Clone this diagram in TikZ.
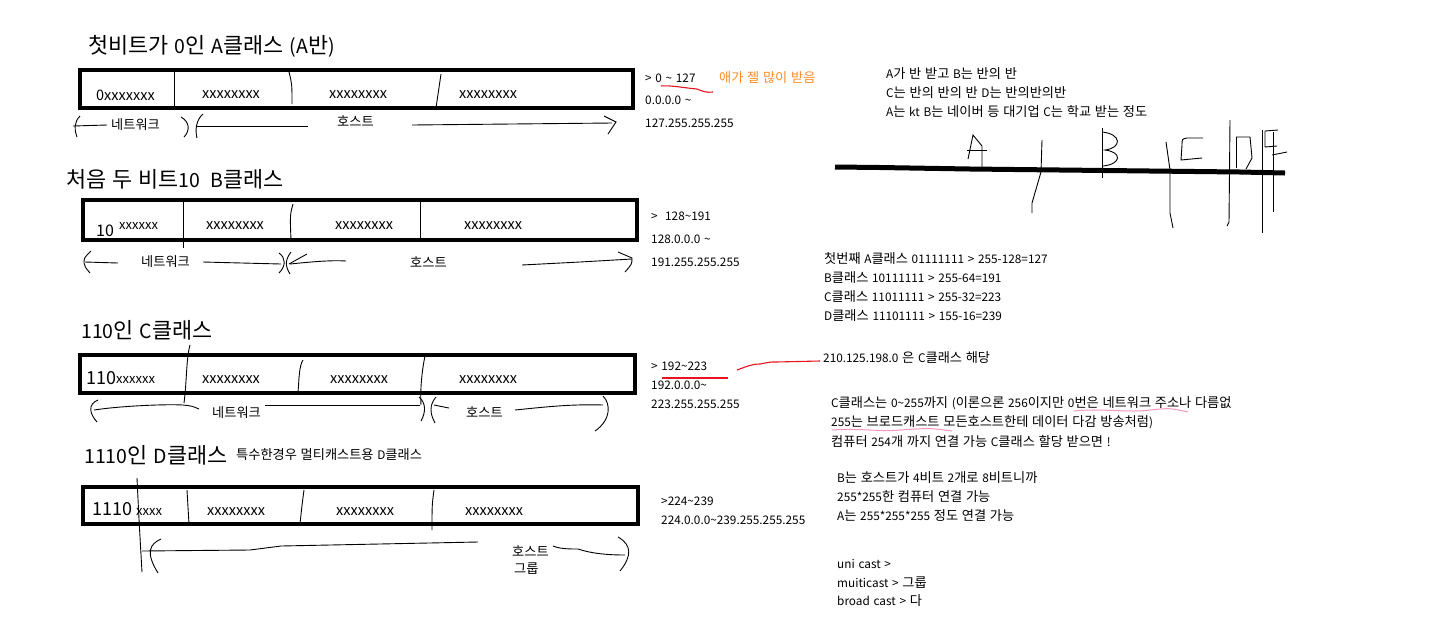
\documentclass[tikz,border=0pt]{standalone}
\usepackage{fontspec}
\setmainfont{Noto Sans CJK KR}[WordSpace=1.4]
\newfontfamily\latinfnt{Noto Sans CJK KR}[WordSpace=1.4]
\newfontfamily\hangulfnt{Noto Sans CJK KR}[Scale=1.12,WordSpace=1.2]
\XeTeXinterchartokenstate=1
\newXeTeXintercharclass\HangulClass
\count255="AC00
\loop\ifnum\count255<"D7A4
  \XeTeXcharclass\count255=\HangulClass
  \advance\count255 by 1
\repeat
\XeTeXinterchartoks 0 \HangulClass = {\hangulfnt}
\XeTeXinterchartoks 4095 \HangulClass = {\hangulfnt}
\XeTeXinterchartoks \HangulClass 0 = {\latinfnt}
\XeTeXinterchartoks \HangulClass 4095 = {\latinfnt}
\newcommand\tld{\textasciitilde}
\tikzset{
  t/.style={anchor=west, inner sep=0pt, font=\fontsize{11.8}{13}\selectfont},
  ttl/.style={anchor=west, inner sep=0pt, font=\fontsize{19.5}{22}\selectfont},
  bits/.style={anchor=west, inner sep=0pt, font=\fontsize{14.5}{16}\selectfont},
  bigd/.style={anchor=west, inner sep=0pt, font=\fontsize{18}{20}\selectfont},
  frame/.style={line width=4pt},
  pen/.style={line width=0.9pt},
  redpen/.style={line width=1.1pt, draw=penred},
  pinkpen/.style={line width=1pt, draw=penpink},
  thick line/.style={line width=5pt},
}
\definecolor{penred}{RGB}{230,20,30}
\definecolor{penpink}{RGB}{245,150,190}
\definecolor{orangetxt}{RGB}{255,140,40}
\begin{document}
\begin{tikzpicture}[x=1pt,y=-1pt]
\fill[white] (0,0) rectangle (1432,641);
\useasboundingbox (0,0) rectangle (1432,641);

% ---------------- A class ----------------
\node[ttl] (tA) at (88,46) {첫비트가 0인 A클래스 (A반)};
\draw[frame] (80,70) rectangle (633,108);
\draw[pen] (174,70) -- (174,108);
\draw[pen] (289,72) .. controls (292,84) .. (292,104);
\draw[pen] (441,74) -- (436,108);
\node[bits] (a1) at (96,95) {0xxxxxxx};
\node[bits] (a2) at (202,95) {xxxxxxxx};
\node[bits] (a3) at (329,95) {xxxxxxxx};
\node[bits] (a4) at (459,95) {xxxxxxxx};
% brackets
\draw[pen] (80,116) .. controls (74,122) and (74,130) .. (77,137);
\draw[pen] (73,126) -- (107,125);
\node[t] (aNet) at (111,125) {네트워크};
\draw[pen] (181,117) .. controls (190,122) and (190,131) .. (184,137);
\draw[pen] (203,114) .. controls (196,120) and (195,130) .. (197,138);
\draw[pen] (197,126) -- (308,126);
\node[t] (aHost) at (337,121) {호스트};
\draw[pen] (412,125) -- (612,123);
\draw[pen] (604,116) -- (616,122) -- (608,134);
% right notes
\node[t] (aR1) at (645,78) {> 0 \tld{} 127};
\node[t, text=orangetxt] (aR1b) at (719,78) {애가 젤 많이 받음};
\draw[redpen] (661,86) .. controls (670,85) and (685,88) .. (697,89) .. controls (702,91) and (706,93) .. (713,92);
\node[t] (aR2) at (645,100) {0.0.0.0 \tld};
\node[t] (aR3) at (645,123) {127.255.255.255};

% ---------------- B class ----------------
\node[ttl] (tB) at (66,179) {처음 두 비트10\hspace{4pt} B클래스};
\draw[frame] (83,200) rectangle (637,240);
\draw[pen] (183,202) -- (183,248);
\draw[pen] (293,204) .. controls (290,215) .. (291,240);
\draw[pen] (420,202) -- (420,240);
\node[bigd, font=\fontsize{16}{18}\selectfont] (b0) at (96,231) {10};
\node[bits, font=\fontsize{13}{14}\selectfont] (b1) at (119,226) {xxxxxx};
\node[bits] (b2) at (206,226) {xxxxxxxx};
\node[bits] (b3) at (335,226) {xxxxxxxx};
\node[bits] (b4) at (464,226) {xxxxxxxx};
% brackets
\draw[pen] (91,251) .. controls (84,258) .. (84,263) .. controls (85,267) .. (90,273);
\draw[pen] (85,262) -- (118,263);
\node[t] (bNet) at (141,262) {네트워크};
\draw[pen] (203,262) -- (281,264);
\draw[pen] (279,253) .. controls (286,258) and (286,266) .. (279,273);
\draw[pen] (291,252) .. controls (285,260) and (285,266) .. (290,274);
\draw[pen] (307,254) -- (289,264);
\draw[pen] (290,264) .. controls (310,262) and (330,260) .. (346,261);
\node[t] (bHost) at (410,262) {호스트};
\draw[pen] (522,265) -- (580,262) -- (632,259);
\draw[pen] (618,252) -- (632,258) .. controls (632,264) .. (625,272);
% right notes
\node[t] (bR1) at (651,216) {> \ 128\tld{}191};
\node[t] (bR2) at (651,239) {128.0.0.0 \tld};
\node[t] (bR3) at (651,262) {191.255.255.255};

% ---------------- C class ----------------
\node[ttl] (tC) at (81,330) {110인 C클래스};
\draw[frame] (80,355) rectangle (635,393);
\draw[pen] (190,345) .. controls (186,360) and (187,380) .. (184,403);
\draw[pen] (303,360) .. controls (299,366) and (299,380) .. (298,393);
\draw[pen] (425,356) .. controls (422,370) and (420,390) .. (421,405);
\node[bigd] (c0) at (86,378) {110};
\node[bits, font=\fontsize{13}{14}\selectfont] (c1) at (116,380) {xxxxxx};
\node[bits] (c2) at (202,380) {xxxxxxxx};
\node[bits] (c3) at (330,380) {xxxxxxxx};
\node[bits] (c4) at (459,380) {xxxxxxxx};
% brackets
\draw[pen] (98,400) .. controls (88,404) and (89,413) .. (97,422);
\draw[pen] (94,410) .. controls (120,406) and (165,404) .. (183,405) .. controls (192,406) .. (199,409);
\node[t] (cNet) at (212,413) {네트워크};
\draw[pen] (265,405) -- (420,405);
\draw[pen] (419,397) .. controls (426,403) and (426,412) .. (421,421);
\draw[pen] (436,397) .. controls (429,405) and (430,414) .. (435,423);
\draw[pen] (434,405) -- (449,408);
\node[t] (cHost) at (466,412) {호스트};
\draw[pen] (515,410) .. controls (545,407) and (570,404) .. (603,405);
\draw[pen] (603,396) .. controls (611,404) and (611,420) .. (595,431);
% right notes
\node[t] (cR1) at (651,366) {> 192\tld{}223};
\draw[redpen] (662,378) -- (728,378);
\draw[redpen] (737,370) .. controls (748,366) and (752,364) .. (760,364) .. controls (770,362) .. (776,362) -- (820,361);
\node[t] (cNote) at (823,358) {210.125.198.0 은 C클래스 해당};
\node[t] (cR2) at (651,385) {192.0.0.0\tld};
\node[t] (cR3) at (651,404) {223.255.255.255};

% ---------------- D class ----------------
\node[ttl] (tD) at (84,455) {1110인 D클래스};
\node[t] (tDs) at (236,455) {특수한경우 멀티캐스트용 D클래스};
\draw[frame] (83,487) rectangle (638,524);
\draw[pen] (137,478) .. controls (139,520) .. (142,572);
\draw[pen] (187,490) -- (189,524);
\draw[pen] (304,490) .. controls (302,505) .. (300,524);
\draw[pen] (434,490) .. controls (432,505) .. (432,530);
\node[bigd] (d0) at (92,509) {1110};
\node[bits, font=\fontsize{13}{14}\selectfont] (d1) at (136,512) {xxxx};
\node[bits] (d2) at (207,512) {xxxxxxxx};
\node[bits] (d3) at (336,512) {xxxxxxxx};
\node[bits] (d4) at (465,512) {xxxxxxxx};
% brackets
\draw[pen] (161,539) .. controls (150,544) and (145,552) .. (158,573);
\draw[pen] (142,551) -- (250,550) -- (281,546) -- (478,542);
\node[t] (dHost) at (512,551) {호스트};
\node[t] (dGrp) at (514,569) {그룹};
\draw[pen] (553,546) .. controls (560,549) and (570,549) .. (578,549) .. controls (590,553) and (605,555) .. (625,555);
\draw[pen] (618,537) .. controls (632,545) and (632,556) .. (620,571);
% right notes
\node[t] (dR1) at (661,501) {>224\tld{}239};
\node[t] (dR2) at (661,520) {224.0.0.0\tld{}239.255.255.255};

% ---------------- right column ----------------
\node[t] (n1) at (886,74) {A가 반 받고 B는 반의 반};
\node[t] (n2) at (886,93) {C는 반의 반의 반 D는 반의반의반};
\node[t] (n3) at (886,112) {A는 kt B는 네이버 등 대기업 C는 학교 받는 정도};

\draw[thick line] (835,167) -- (880,167.5) -- (970,169) -- (1060,170) -- (1150,171) -- (1240,172) -- (1285,173);
% A
\draw[pen] (968,159) -- (973,135) -- (982,146) -- (982,168);
\draw[pen] (967,150) -- (987,150);
\draw[pen] (1042,140) -- (1041,172) -- (1032,203) -- (1032,213);
% B
\draw[pen] (1102,128) -- (1102,178);
\draw[pen] (1102,132) .. controls (1122,134) and (1122,148) .. (1105,150) .. controls (1122,152) and (1122,164) .. (1103,166);
\draw[pen] (1166,142) -- (1170,170) -- (1170,213) -- (1173,228);
% C
\draw[pen] (1203,138) -- (1187,138) .. controls (1182,139) .. (1182,145) -- (1181,160) -- (1202,158);
\draw[pen] (1230,120) -- (1229,222) -- (1227,226);
% D
\draw[pen] (1236,137) -- (1236,168);
\draw[pen] (1236,137) -- (1250,137) -- (1252,158) -- (1246,169);
\draw[pen] (1262,130) -- (1262,233);
% E/F
\draw[pen] (1273,132) -- (1273,212);
\draw[pen] (1265,131) -- (1278,130);
\draw[pen] (1265,131) -- (1265,147) -- (1277,146);
\draw[pen] (1272,155) -- (1287,152);

\node[t] (m1) at (824,259) {첫번째 A클래스 01111111 > 255-128=127};
\node[t] (m2) at (824,278) {B클래스 10111111 > 255-64=191};
\node[t] (m3) at (824,297) {C클래스 11011111 > 255-32=223};
\node[t] (m4) at (824,316) {D클래스 11101111 > 155-16=239};

\node[t] (k1) at (831,403) {C클래스는 0\tld{}255까지 (이론으론 256이지만 0번은 네트워크 주소나 다름없};
\node[t] (k2) at (831,422) {255는 브로드캐스트 모든호스트한테 데이터 다감 방송처럼)};
\node[t] (k3) at (831,441) {컴퓨터 254개 까지 연결 가능 C클래스 할당 받으면 !};
\draw[pinkpen] (1074,411) .. controls (1100,408) and (1130,413) .. (1150,410) .. controls (1170,408) .. (1188,412);
\draw[pinkpen] (832,430) .. controls (860,428) and (880,432) .. (900,430) .. controls (930,428) .. (952,431);

\node[t] (p1) at (837,478) {B는 호스트가 4비트 2개로 8비트니까};
\node[t] (p2) at (837,497) {255*255한 컴퓨터 연결 가능};
\node[t] (p3) at (837,516) {A는 255*255*255 정도 연결 가능};

\node[t] (q1) at (837,564) {uni cast >};
\node[t] (q2) at (837,583) {muiticast > 그룹};
\node[t] (q3) at (837,601) {broad cast > 다};
\end{tikzpicture}
\end{document}
